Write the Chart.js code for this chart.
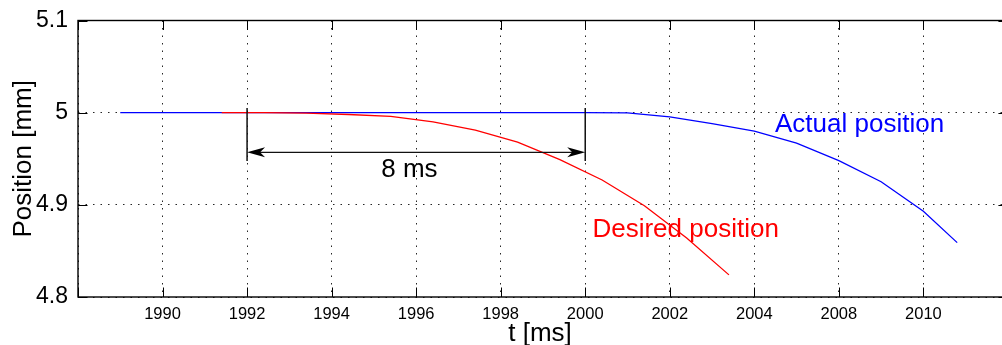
<!DOCTYPE html>
<html>
<head>
    <title>Desired vs actual position</title>
    <script src="https://cdn.jsdelivr.net/npm/chart.js@4/dist/chart.umd.min.js"></script>
    <style>
        body {
            margin: 0;
            background: white;
        }
    </style>
</head>
<body>
    <canvas id="chart" width="1002" height="345"></canvas>

    <script>
        // Series data (t in ms, position in mm)
        const actualT = [1989, 1990, 1991, 1992, 1993, 1994, 1995, 1996, 1997, 1998, 1999, 2000,
                         2001, 2002, 2003, 2004, 2005, 2006, 2007, 2008, 2008.8];
        const actualPos = [5.0, 5.0, 5.0, 5.0, 5.0, 5.0, 5.0, 5.0, 5.0, 5.0, 5.0, 5.0,
                           4.9997, 4.9955, 4.988, 4.980, 4.967, 4.948, 4.925, 4.893, 4.859];

        const desiredT = [1991.4, 1992.4, 1993.4, 1994.4, 1995.4, 1996.4, 1997.4, 1998.4,
                          1999.4, 2000.4, 2001.4, 2002.4, 2003.4];
        const desiredPos = [5.0, 5.0, 4.9995, 4.998, 4.996, 4.990, 4.981, 4.968,
                            4.949, 4.927, 4.899, 4.864, 4.824];

        // Axis ticks (labels as printed on the original figure)
        const xMin = 1988;
        const xVisibleMax = 2009.86;   // the box edge at 2010 falls just outside the picture
        const xBoxMax = 2010;
        const xTickValues = [1990, 1992, 1994, 1996, 1998, 2000, 2002, 2004, 2006, 2008];
        const xTickLabels = ['1990', '1992', '1994', '1996', '1998', '2000', '2002', '2004', '2008', '2010'];
        const yTickValues = [4.8, 4.9, 5.0, 5.1];
        const yTickLabels = ['4.8', '4.9', '5', '5.1'];

        // Delay annotation
        const delayStart = 1992;
        const delayEnd = 2000;
        const delayTop = 5.005;
        const delayBottom = 4.9475;
        const delayArrowY = 4.957;
        const delayText = '8 ms';
        const delayTextAt = [1995.84, 4.930];

        // Series labels
        const actualLabel = 'Actual position';
        const actualLabelAt = [2004.49, 4.979];
        const desiredLabel = 'Desired position';
        const desiredLabelAt = [2000.17, 4.8646];

        const FONT = '"Liberation Sans", Arial, sans-serif';
        Chart.defaults.font.family = FONT;
        Chart.defaults.color = '#000';

        function toPoints(xs, ys) {
            return xs.map((x, i) => ({ x: x, y: ys[i] }));
        }

        // Matlab-like box with inner tick marks, plus text and the arrow annotation
        const matlabFrame = {
            id: 'matlabFrame',
            afterDatasetsDraw(chart) {
                const ctx = chart.ctx;
                const a = chart.chartArea;
                const xs = chart.scales.x;
                const ys = chart.scales.y;
                const tick = 9.5;
                const right = xs.getPixelForValue(xBoxMax);

                ctx.save();
                ctx.strokeStyle = '#000';
                ctx.lineWidth = 1;
                ctx.beginPath();
                xs.ticks.forEach(t => {
                    const px = Math.round(xs.getPixelForValue(t.value)) + 0.5;
                    ctx.moveTo(px, a.bottom); ctx.lineTo(px, a.bottom - tick);
                    ctx.moveTo(px, a.top); ctx.lineTo(px, a.top + tick);
                });
                ys.ticks.forEach(t => {
                    const py = Math.round(ys.getPixelForValue(t.value)) + 0.5;
                    ctx.moveTo(a.left, py); ctx.lineTo(a.left + tick, py);
                    ctx.moveTo(right, py); ctx.lineTo(right - tick, py);
                });
                ctx.stroke();

                ctx.lineWidth = 1.4;
                ctx.strokeRect(a.left, a.top, right - a.left, a.bottom - a.top);

                // delay bracket
                const x1 = xs.getPixelForValue(delayStart);
                const x2 = xs.getPixelForValue(delayEnd);
                const yT = ys.getPixelForValue(delayTop);
                const yB = ys.getPixelForValue(delayBottom);
                const yA = ys.getPixelForValue(delayArrowY);
                ctx.strokeStyle = '#111';
                ctx.lineWidth = 1.5;
                ctx.beginPath();
                ctx.moveTo(x1, yT); ctx.lineTo(x1, yB);
                ctx.moveTo(x2, yT); ctx.lineTo(x2, yB);
                ctx.stroke();
                ctx.lineWidth = 1.2;
                ctx.beginPath();
                ctx.moveTo(x1 + 10, yA); ctx.lineTo(x2 - 10, yA);
                ctx.stroke();

                function head(tipX, dir) {
                    ctx.beginPath();
                    ctx.moveTo(tipX, yA);
                    ctx.lineTo(tipX + dir * 18, yA - 5);
                    ctx.lineTo(tipX + dir * 13, yA);
                    ctx.lineTo(tipX + dir * 18, yA + 5);
                    ctx.closePath();
                    ctx.fillStyle = '#000';
                    ctx.fill();
                }
                head(x1, 1);
                head(x2, -1);

                // texts
                ctx.font = '26px ' + FONT;
                ctx.textBaseline = 'alphabetic';
                ctx.textAlign = 'center';
                ctx.fillStyle = '#000';
                ctx.fillText(delayText, xs.getPixelForValue(delayTextAt[0]), ys.getPixelForValue(delayTextAt[1]));

                ctx.textAlign = 'left';
                ctx.fillStyle = '#0000ff';
                ctx.fillText(actualLabel, xs.getPixelForValue(actualLabelAt[0]), ys.getPixelForValue(actualLabelAt[1]));
                ctx.fillStyle = '#ff0000';
                ctx.fillText(desiredLabel, xs.getPixelForValue(desiredLabelAt[0]), ys.getPixelForValue(desiredLabelAt[1]));
                ctx.restore();
            }
        };

        const gridStyle = {
            color: 'rgba(0,0,0,0.85)',
            lineWidth: 1,
            drawTicks: false
        };

        new Chart(document.getElementById('chart'), {
            type: 'line',
            data: {
                datasets: [
                    {
                        label: desiredLabel,
                        data: toPoints(desiredT, desiredPos),
                        borderColor: '#ff0000',
                        borderWidth: 1.3,
                        pointRadius: 0,
                        tension: 0,
                        fill: false
                    },
                    {
                        label: actualLabel,
                        data: toPoints(actualT, actualPos),
                        borderColor: '#0000ff',
                        borderWidth: 1.3,
                        pointRadius: 0,
                        tension: 0,
                        fill: false
                    }
                ]
            },
            options: {
                responsive: false,
                devicePixelRatio: 1,
                animation: false,
                layout: { padding: { top: 20.5, right: 0, left: 0, bottom: 0 } },
                plugins: {
                    legend: { display: false },
                    tooltip: { enabled: false }
                },
                scales: {
                    x: {
                        type: 'linear',
                        min: xMin,
                        max: xVisibleMax,
                        afterFit(scale) {
                            scale.height = 48;
                            scale.paddingLeft = 0;
                            scale.paddingRight = 0;
                        },
                        afterBuildTicks(scale) {
                            scale.ticks = [xMin].concat(xTickValues).map(v => ({ value: v }));
                        },
                        ticks: {
                            padding: 8,
                            maxRotation: 0,
                            autoSkip: false,
                            font: { size: 16.5 },
                            callback(v) {
                                const i = xTickValues.indexOf(v);
                                return i >= 0 ? xTickLabels[i] : '';
                            }
                        },
                        grid: gridStyle,
                        border: { display: false, dash: [1.5, 6] },
                        title: {
                            display: true,
                            text: 't [ms]',
                            font: { size: 26, lineHeight: 0.85 },
                            padding: 0
                        }
                    },
                    y: {
                        type: 'linear',
                        min: 4.8,
                        max: 5.1,
                        afterFit(scale) {
                            scale.width = 78;
                            scale.paddingTop = 0;
                            scale.paddingBottom = 0;
                        },
                        afterBuildTicks(scale) {
                            scale.ticks = yTickValues.map(v => ({ value: v }));
                        },
                        ticks: {
                            padding: 10,
                            font: { size: 23 },
                            callback(v) {
                                const i = yTickValues.findIndex(t => Math.abs(t - v) < 1e-9);
                                return i >= 0 ? yTickLabels[i] : '';
                            }
                        },
                        grid: gridStyle,
                        border: { display: false, dash: [1.5, 6] },
                        title: {
                            display: true,
                            text: 'Position [mm]',
                            font: { size: 26, lineHeight: 1.8 },
                            padding: 0
                        }
                    }
                }
            },
            plugins: [matlabFrame]
        });
    </script>
</body>
</html>
